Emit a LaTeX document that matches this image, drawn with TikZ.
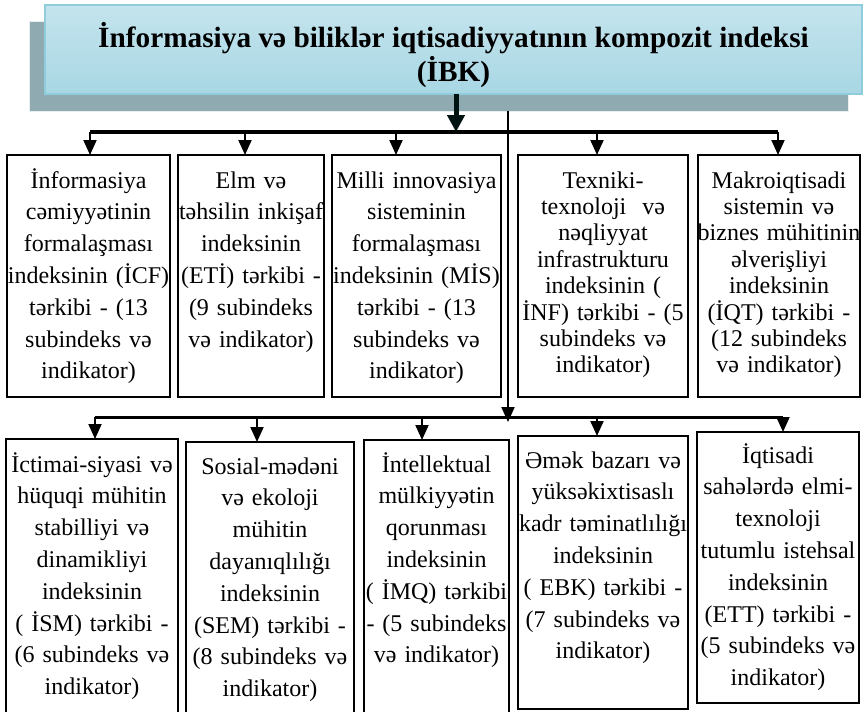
\documentclass[tikz,border=0pt]{standalone}
\usepackage{fontspec}
\setmainfont{Liberation Serif}
\usetikzlibrary{arrows.meta,positioning}

\definecolor{titleedge}{HTML}{8FCCDC}
\definecolor{titletop}{HTML}{C4E4ED}
\definecolor{titlemid}{HTML}{DDEFF4}
\definecolor{titlebot}{HTML}{A8D7E4}
\definecolor{shadowgray}{HTML}{8FAAB1}

\begin{document}
\begin{tikzpicture}[x=1pt,y=-1pt,
    idxbox/.style={
        rectangle,
        draw=black,
        line width=1.5pt,
        outer sep=0pt,
        inner xsep=-4pt,
        inner ysep=0pt,
        align=center,
        font=\fontsize{24}{31.8}\selectfont
    },
    upperbox/.style={idxbox, text height=33pt, text depth=209pt},
    tightbox/.style={upperbox, font=\fontsize{24}{26.4}\selectfont},
    bus/.style={line width=3.5pt},
    branch/.style={-{Triangle[width=13pt,length=15pt]}, line width=2pt},
    mainarrow/.style={-{Triangle[width=17pt,length=17pt]}, line width=5pt, draw=black!85!teal}
]
\clip (0,0) rectangle (865,712);

% Title with its shadow
\node[rectangle, fill=shadowgray, draw=white!80!shadowgray, line width=1pt,
      minimum width=819pt, minimum height=90pt, anchor=north west] (shadow) at (29,21) {};
\node[rectangle, top color=titletop, middle color=titlemid, bottom color=titlebot,
      draw=titleedge, line width=2pt, outer sep=0pt, inner ysep=0pt,
      minimum width=817pt, text height=76pt, text depth=13pt, align=center,
      font=\fontsize{29.3}{34}\selectfont\bfseries, anchor=north west] (ibk) at (45,5)
    {İnformasiya və biliklər iqtisadiyyatının kompozit indeksi\\(İBK)};

% Upper row
\node[upperbox, text width=171pt, anchor=north west] (icf) at (7,155) {
    İnformasiya\\ cəmiyyətinin\\ formalaşması\\ indeksinin (İCF)\\ tərkibi - (13\\ subindeks və\\ indikator)};
\node[upperbox, text width=154pt, right=8pt of icf] (eti) {
    Elm və\\ təhsilin inkişaf\\ indeksinin\\ (ETİ) tərkibi -\\ (9 subindeks\\ və indikator)};
\node[upperbox, text width=177pt, right=8pt of eti] (mis) {
    Milli innovasiya\\ sisteminin\\ formalaşması\\ indeksinin (MİS)\\ tərkibi - (13\\ subindeks və\\ indikator)};
\node[tightbox, text width=178pt, right=17pt of mis] (inf) {
    Texniki-\\ texnoloji~ və\\ nəqliyyat\\ infrastrukturu\\ indeksinin (\\ İNF) tərkibi - (5\\ subindeks və\\ indikator)};
\node[tightbox, text width=170pt, right=10pt of inf] (iqt) {
    Makroiqtisadi\\ sistemin və\\ biznes mühitinin\\ əlverişliyi\\ indeksinin\\ (İQT) tərkibi -\\ (12 subindeks\\ və indikator)};

% Lower row
\node[idxbox, text width=180pt, text height=33pt, text depth=258pt, anchor=north west] (ism) at (6,439) {
    İctimai-siyasi və\\ hüquqi mühitin\\ stabilliyi və\\ dinamikliyi\\ indeksinin\\ ( İSM) tərkibi -\\ (6 subindeks və\\ indikator)};
\node[idxbox, text width=176pt, text height=32pt, text depth=256pt, anchor=north west] (sem) at (186,442) {
    Sosial-mədəni\\ və ekoloji\\ mühitin\\ dayanıqlılığı\\ indeksinin\\ (SEM) tərkibi -\\ (8 subindeks və\\ indikator)};
\node[idxbox, text width=153pt, text height=32pt, text depth=258pt, anchor=north west] (imq) at (364,440) {
    İntellektual\\ mülkiyyətin\\ qorunması\\ indeksinin\\ ( İMQ) tərkibi\\ - (5 subindeks\\ və indikator)};
\node[idxbox, text width=178pt, text height=32pt, text depth=241pt, anchor=north west] (ebk) at (518,436) {
    Əmək bazarı və\\ yüksəkixtisaslı\\ kadr təminatlılığı\\ indeksinin\\ ( EBK) tərkibi -\\ (7 subindeks və\\ indikator)};
\node[idxbox, text width=170pt, text height=31pt, text depth=240pt, anchor=north west] (ett) at (697,432) {
    İqtisadi\\ sahələrdə elmi-\\ texnoloji\\ tutumlu istehsal\\ indeksinin\\ (ETT) tərkibi -\\ (5 subindeks və\\ indikator)};

% Bus coordinates
\coordinate (ubus) at (456,132);
\coordinate (ul) at (90,132);
\coordinate (ur) at (778,132);
\coordinate (vtop) at (508,111);
\coordinate (lbus) at (508,422);
\coordinate (ll) at (95,417);
\coordinate (lr) at (783,417);

% Upper connectors
\draw[bus] (ul) -- (ur);
\draw[mainarrow] (ibk.south -| ubus) -- (ubus);
\draw[branch] (ul) -- (ul |- icf.north);
\draw[branch] (245,132) -- (245,132 |- eti.north);
\draw[branch] (396,132) -- (396,132 |- mis.north);
\draw[branch] (597,132) -- (597,132 |- inf.north);
\draw[branch] (ur) -- (ur |- iqt.north);

% Lower connectors
\draw[line width=3pt] (ll) -- (lr);
\draw[branch, line width=2.2pt] (vtop) -- (lbus);
\draw[branch] (ll) -- (ll |- ism.north);
\draw[branch] (257,417) -- (257,417 |- sem.north);
\draw[branch] (422,417) -- (422,417 |- imq.north);
\draw[branch] (597,417) -- (597,417 |- ebk.north);
\draw[branch] (lr) -- (lr |- ett.north);

\end{tikzpicture}
\end{document}
